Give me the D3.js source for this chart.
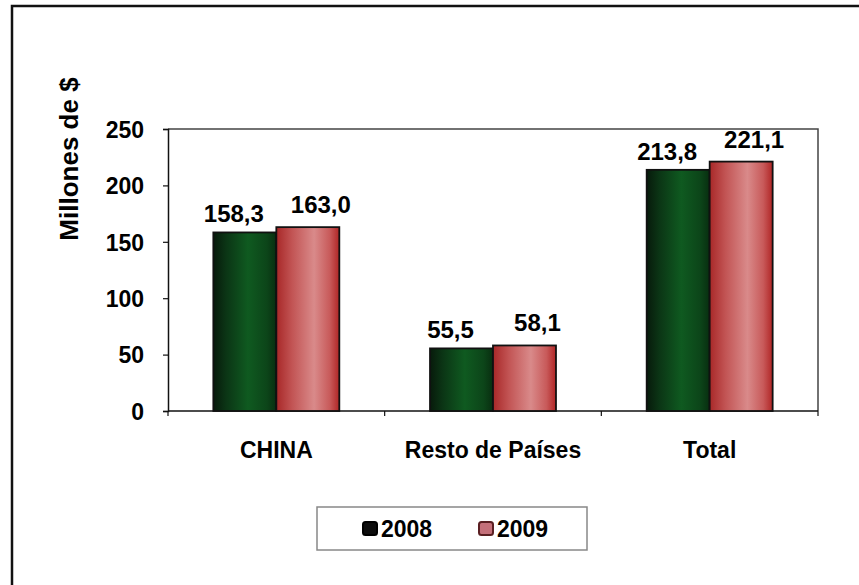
<!DOCTYPE html>
<html>
<head>
<meta charset="utf-8">
<script src="https://cdn.jsdelivr.net/npm/d3@7"></script>
<style>
  html, body { margin: 0; padding: 0; background: #fff; }
  svg { display: block; }
  text { font-family: "Liberation Sans", Arial, sans-serif; font-weight: bold; fill: #000; }
</style>
</head>
<body>
<svg id="chart" width="859" height="585"></svg>
<script>
// Exports in millions of dollars, by destination and year
const categories = ["CHINA", "Resto de Países", "Total"];
const series = ["2008", "2009"];
const values2008 = [158.3, 55.5, 213.8];
const values2009 = [163.0, 58.1, 221.1];
const yTicks = [0, 50, 100, 150, 200, 250];
const yTitle = "Millones de $";

const seriesValues = [values2008, values2009];
const fmt = v => d3.format(".1f")(v).replace(".", ",");

const svg = d3.select("#chart");
const W = 859, H = 585;
const plot = { left: 168, right: 818, top: 129, bottom: 411 };

// Frame around the chart (top and left edges are visible)
svg.append("rect").attr("x", 12).attr("y", 6).attr("width", W).attr("height", H)
  .attr("fill", "#fff").attr("stroke", "#111").attr("stroke-width", 2.5);

// Gradients giving the bars a cylindrical look
const defs = svg.append("defs");
const gradients = [
  { id: "g2008", stops: [[0, "#071a0b"], [0.2, "#0b3515"], [0.55, "#0f5a20"], [0.85, "#0c4519"], [1, "#082e10"]] },
  { id: "g2009", stops: [[0, "#a82828"], [0.25, "#c25454"], [0.6, "#d98a8a"], [0.85, "#c85a5a"], [1, "#b02525"]] }
];
gradients.forEach(g => {
  const lg = defs.append("linearGradient").attr("id", g.id)
    .attr("x1", "0%").attr("x2", "100%").attr("y1", "0%").attr("y2", "0%");
  g.stops.forEach(([o, c]) => lg.append("stop").attr("offset", o).attr("stop-color", c));
});

const x0 = d3.scaleBand().domain(categories).range([plot.left, plot.right]).padding(0);
const x1 = d3.scaleBand().domain(series).range([0, x0.bandwidth()]).paddingInner(0).paddingOuter(0.72);
const y = d3.scaleLinear().domain([0, 250]).range([plot.bottom, plot.top]);

// Plot area border (top and right)
svg.append("path")
  .attr("d", `M${plot.left},${plot.top}H${plot.right}V${plot.bottom}`)
  .attr("fill", "none").attr("stroke", "#444").attr("stroke-width", 1.5);

// Y axis
const yAxis = svg.append("g").attr("transform", `translate(${plot.left},0)`)
  .call(d3.axisLeft(y).tickValues(yTicks).tickSize(5).tickPadding(19).tickFormat(d3.format("d")));
yAxis.select(".domain").attr("stroke", "#111").attr("stroke-width", 1.5);
yAxis.selectAll(".tick line").attr("stroke", "#111").attr("stroke-width", 1.2);
yAxis.selectAll(".tick text").style("font-size", "23px")
  .style("font-family", "'Liberation Sans', Arial, sans-serif").style("font-weight", "bold")
  .attr("fill", "#000").attr("dy", "0.36em");

// X axis with ticks between categories
const xAxis = svg.append("g").attr("transform", `translate(0,${plot.bottom})`);
xAxis.append("line").attr("x1", plot.left).attr("x2", plot.right)
  .attr("stroke", "#111").attr("stroke-width", 1.5);
const boundaries = categories.map(c => x0(c)).concat([x0(categories[categories.length - 1]) + x0.bandwidth()]);
xAxis.selectAll("line.tk").data(boundaries).join("line").attr("class", "tk")
  .attr("x1", d => d).attr("x2", d => d).attr("y1", 0).attr("y2", 5)
  .attr("stroke", "#111").attr("stroke-width", 1.2);
xAxis.selectAll("text").data(categories).join("text")
  .attr("x", d => x0(d) + x0.bandwidth() / 2).attr("y", 47)
  .attr("text-anchor", "middle").style("font-size", "23px").text(d => d);

// Bars with value labels (labels sit slightly outward from each pair)
const labelShift = [-11, 13];
const labelGap = [10, 14];
const groups = svg.append("g").selectAll("g").data(categories).join("g")
  .attr("transform", d => `translate(${x0(d)},0)`);
series.forEach((s, si) => {
  groups.append("rect")
    .attr("x", x1(s)).attr("width", x1.bandwidth())
    .attr("y", (d, i) => y(seriesValues[si][i]))
    .attr("height", (d, i) => y(0) - y(seriesValues[si][i]))
    .attr("fill", `url(#g${s})`).attr("stroke", "#111").attr("stroke-width", 1.8);
  groups.append("text")
    .attr("x", x1(s) + x1.bandwidth() / 2 + labelShift[si])
    .attr("y", (d, i) => y(seriesValues[si][i]) - labelGap[si])
    .attr("text-anchor", "middle").style("font-size", "24px")
    .text((d, i) => fmt(seriesValues[si][i]));
});

// Y axis title
svg.append("text").attr("transform", `translate(78,159) rotate(-90)`)
  .attr("text-anchor", "middle").style("font-size", "26px").text(yTitle);

// Legend
const legend = svg.append("g");
legend.append("rect").attr("x", 317).attr("y", 507).attr("width", 270).attr("height", 43)
  .attr("fill", "#fff").attr("stroke", "#888").attr("stroke-width", 1.5);
const legendX = [363, 479];
const markerFill = ["#0d0d0d", "#c4707a"];
const markerStroke = ["#000", "#5a1f22"];
series.forEach((s, i) => {
  legend.append("rect").attr("x", legendX[i]).attr("y", 522).attr("width", 14).attr("height", 13)
    .attr("rx", 2.5).attr("fill", markerFill[i]).attr("stroke", markerStroke[i]).attr("stroke-width", 2);
  legend.append("text").attr("x", legendX[i] + 18).attr("y", 537)
    .style("font-size", "23px").text(s);
});
</script>
</body>
</html>
